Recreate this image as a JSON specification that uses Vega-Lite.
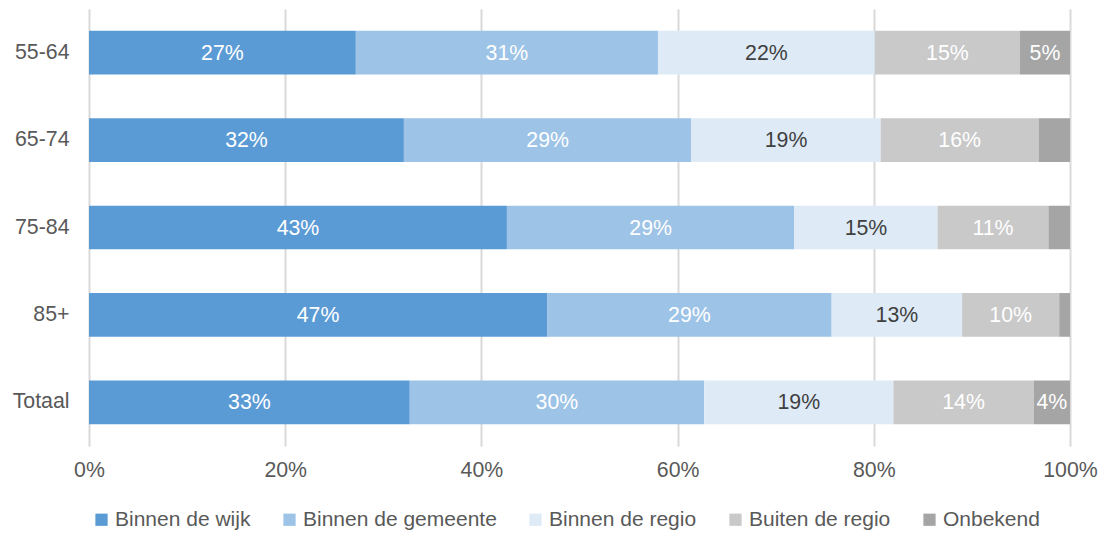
{
  "$schema": "https://vega.github.io/schema/vega-lite/v6.json",
  "autosize": {"type": "none"},
  "padding": {"left": 89, "top": 9, "right": 33, "bottom": 88},
  "width": 981,
  "height": 437,
  "background": "white",
  "config": {
    "font": "Liberation Sans",
    "view": {"stroke": null},
    "axis": {"labelFont": "Liberation Sans", "labelColor": "#595959", "labelFontSize": 21.3, "titleFontSize": 20}
  },
  "data": {
    "values": [
      {"age": "55-64", "cat": "Binnen de wijk", "k": 1, "value": 0.272},
      {"age": "55-64", "cat": "Binnen de gemeente", "k": 2, "value": 0.308},
      {"age": "55-64", "cat": "Binnen de regio", "k": 3, "value": 0.221},
      {"age": "55-64", "cat": "Buiten de regio", "k": 4, "value": 0.148},
      {"age": "55-64", "cat": "Onbekend", "k": 5, "value": 0.051},
      {"age": "65-74", "cat": "Binnen de wijk", "k": 1, "value": 0.321},
      {"age": "65-74", "cat": "Binnen de gemeente", "k": 2, "value": 0.293},
      {"age": "65-74", "cat": "Binnen de regio", "k": 3, "value": 0.193},
      {"age": "65-74", "cat": "Buiten de regio", "k": 4, "value": 0.161},
      {"age": "65-74", "cat": "Onbekend", "k": 5, "value": 0.032},
      {"age": "75-84", "cat": "Binnen de wijk", "k": 1, "value": 0.426},
      {"age": "75-84", "cat": "Binnen de gemeente", "k": 2, "value": 0.293},
      {"age": "75-84", "cat": "Binnen de regio", "k": 3, "value": 0.146},
      {"age": "75-84", "cat": "Buiten de regio", "k": 4, "value": 0.113},
      {"age": "75-84", "cat": "Onbekend", "k": 5, "value": 0.022},
      {"age": "85+", "cat": "Binnen de wijk", "k": 1, "value": 0.467},
      {"age": "85+", "cat": "Binnen de gemeente", "k": 2, "value": 0.290},
      {"age": "85+", "cat": "Binnen de regio", "k": 3, "value": 0.133},
      {"age": "85+", "cat": "Buiten de regio", "k": 4, "value": 0.099},
      {"age": "85+", "cat": "Onbekend", "k": 5, "value": 0.011},
      {"age": "Totaal", "cat": "Binnen de wijk", "k": 1, "value": 0.327},
      {"age": "Totaal", "cat": "Binnen de gemeente", "k": 2, "value": 0.300},
      {"age": "Totaal", "cat": "Binnen de regio", "k": 3, "value": 0.193},
      {"age": "Totaal", "cat": "Buiten de regio", "k": 4, "value": 0.143},
      {"age": "Totaal", "cat": "Onbekend", "k": 5, "value": 0.037}
    ]
  },
  "transform": [
    {"stack": "value", "groupby": ["age"], "sort": [{"field": "k", "order": "ascending"}], "as": ["x0", "x1"]}
  ],
  "encoding": {
    "y": {
      "field": "age", "type": "nominal",
      "sort": ["55-64", "65-74", "75-84", "85+", "Totaal"],
      "scale": {"paddingInner": 0.5, "paddingOuter": 0.25},
      "axis": {"title": null, "ticks": false, "domain": false, "labelPadding": 20, "grid": false}
    }
  },
  "layer": [
    {
      "mark": {"type": "bar"},
      "encoding": {
        "x": {
          "field": "x0", "type": "quantitative",
          "scale": {"domain": [0, 1], "nice": false},
          "axis": {"title": null, "format": ".0%", "values": [0, 0.2, 0.4, 0.6, 0.8, 1], "ticks": false, "domain": false, "grid": true, "gridColor": "#D9D9D9", "gridWidth": 2, "labelPadding": 13, "labelFlush": false}
        },
        "x2": {"field": "x1"},
        "color": {
          "field": "cat", "type": "nominal",
          "scale": {
            "domain": ["Binnen de wijk", "Binnen de gemeente", "Binnen de regio", "Buiten de regio", "Onbekend"],
            "range": ["#5B9BD5", "#9DC3E6", "#DEEBF7", "#C9C9C9", "#A5A5A5"]
          },
          "legend": {
            "title": null,
            "orient": "none",
            "direction": "horizontal",
            "legendX": 2,
            "legendY": 500,
            "columns": 5,
            "symbolType": "square",
            "symbolSize": 150,
            "symbolStrokeWidth": 0,
            "labelFont": "Liberation Sans",
            "labelFontSize": 21,
            "labelColor": "#595959",
            "labelLimit": 400,
            "labelOffset": 3,
            "columnPadding": 28
          }
        }
      }
    },
    {
      "transform": [
        {"filter": "datum.value >= 0.035"},
        {"calculate": "(datum.x0 + datum.x1) / 2", "as": "mid"}
      ],
      "mark": {"type": "text", "fontSize": 21.3, "font": "Liberation Sans", "baseline": "middle", "align": "center", "dy": 1},
      "encoding": {
        "x": {"field": "mid", "type": "quantitative"},
        "text": {"field": "value", "type": "quantitative", "format": ".0%"},
        "color": {
          "condition": {"test": "datum.cat === 'Binnen de regio'", "value": "#404040"},
          "value": "#FFFFFF"
        }
      }
    }
  ]
}
